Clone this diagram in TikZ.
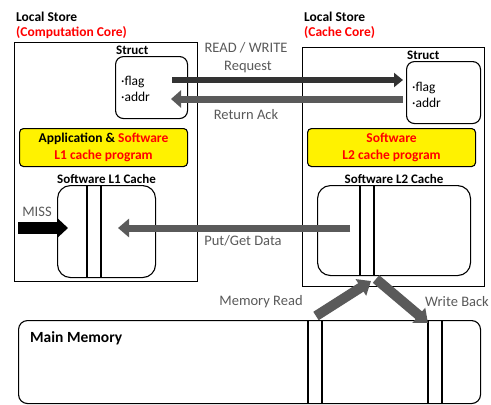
\documentclass[tikz,border=0pt]{standalone}
\usepackage{fontspec}
\setmainfont{Carlito}
\usetikzlibrary{arrows.meta,positioning}
\definecolor{darkarr}{HTML}{333333}
\definecolor{grayarr}{HTML}{5A5A5A}
\definecolor{graytxt}{HTML}{595959}
\tikzset{
  storebox/.style={draw, line width=1.1pt, anchor=north west, inner sep=0pt},
  structbox/.style={draw, line width=1.1pt, rounded corners=8pt, anchor=north west, inner sep=0pt},
  cachebox/.style={draw, line width=1.1pt, rounded corners=13pt, anchor=north west, inner sep=0pt},
  progbox/.style={draw, line width=1.1pt, fill=yellow, rounded corners=4pt, anchor=north west,
    inner sep=0pt, align=center, font=\fontsize{13.5}{17}\selectfont\bfseries},
  title/.style={anchor=west, font=\fontsize{13.5}{16}\selectfont\bfseries, inner sep=0pt},
  lbl/.style={font=\fontsize{13}{16}\selectfont\bfseries, inner sep=1pt},
  arrlbl/.style={text=graytxt, inner sep=0pt, font=\fontsize{14.5}{17}\selectfont},
}
\begin{document}
\begin{tikzpicture}[x=1pt,y=-1pt,line join=miter,font=\fontsize{13.5}{16}\selectfont]
\useasboundingbox (0,0) rectangle (491,405);
% local stores
\node[title] (ltitle) at (16,17) {Local Store};
\node[title,text=red] (lcore) at (16,33) {(Computation Core)};
\node[title] (rtitle) at (304,17) {Local Store};
\node[title,text=red] (rcore) at (304,33) {(Cache Core)};
\node[storebox, minimum width=183pt, minimum height=239pt] (lstore) at (14,42) {};
\node[storebox, minimum width=182pt, minimum height=239pt] (rstore) at (302,47) {};
% struct
\node[structbox, minimum width=72pt, minimum height=62pt] (lstruct) at (115,56) {};
\node[structbox, minimum width=74pt, minimum height=62pt] (rstruct) at (406,61) {};
\node[lbl, anchor=south west] (lstructlbl) at (lstruct.north west) {Struct};
\node[lbl, anchor=south west] (rstructlbl) at (rstruct.north west) {Struct};
\node[anchor=west, align=left, inner sep=0pt] (lfields) at ([xshift=6pt,yshift=-1pt]lstruct.west) {·flag\\·addr};
\node[anchor=west, align=left, inner sep=0pt] (rfields) at ([xshift=6pt,yshift=-2pt]rstruct.west) {·flag\\·addr};
% programs
\node[progbox, minimum width=168pt, minimum height=38pt] (lprog) at (19,128)
  {Application \& \textcolor{red}{Software}\\\textcolor{red}{L1 cache program}};
\node[progbox, minimum width=168pt, minimum height=38pt, text=red] (rprog) at (307,128)
  {Software\\L2 cache program};
% caches
\node[cachebox, minimum width=98pt, minimum height=92pt] (lcache) at (57,185) {};
\node[cachebox, minimum width=153pt, minimum height=90pt] (rcache) at (317,185) {};
\node[lbl, above=0pt of lcache] (lcachelbl) {Software L1 Cache};
\node[lbl, above=0pt of rcache] (rcachelbl) {Software L2 Cache};
\draw[line width=1.1pt] (87,0 |- lcache.north) -- (87,0 |- lcache.south);
\draw[line width=1.1pt] (101,0 |- lcache.north) -- (101,0 |- lcache.south);
\draw[line width=1.1pt] (360,0 |- rcache.north) -- (360,0 |- rcache.south);
\draw[line width=1.1pt] (374,0 |- rcache.north) -- (374,0 |- rcache.south);
% main memory
\node[cachebox, rounded corners=9pt, minimum width=462pt, minimum height=83pt] (mem) at (18,320) {};
\node[lbl, anchor=west, font=\fontsize{15.5}{18}\selectfont\bfseries] (memlbl) at (29,338) {Main Memory};
\foreach \xx in {308,322,428,442}
  \draw[line width=1.1pt] (\xx,0 |- mem.north) -- (\xx,0 |- mem.south);
% arrows
\coordinate (reqS) at (172,80);
\coordinate (ackE) at (171,99);
\coordinate (pgS) at (350,228);
\coordinate (pgE) at (118,228);
\coordinate (missS) at (18,228);
\coordinate (missE) at (68,228);
\coordinate (mrS) at (316,316);
\coordinate (mrE) at (371,281);
\coordinate (wbS) at (376,279);
\coordinate (wbE) at (428,323);
\draw[darkarr, line width=6pt, -{Triangle[length=9pt,width=14pt]}] (reqS) -- ([xshift=-3pt]reqS -| rstruct.west);
\draw[grayarr, line width=7pt, -{Triangle[length=10pt,width=17pt]}] ([xshift=-3pt]rstruct.west |- ackE) -- (ackE);
\draw[grayarr, line width=7pt, -{Triangle[length=11pt,width=18pt]}] (pgS) -- (pgE);
\draw[black, line width=12pt, -{Triangle[length=10pt,width=18pt]}] (missS) -- (missE);
\draw[grayarr, line width=10pt, -{Triangle[length=12pt,width=19pt]}] (mrS) -- (mrE);
\draw[grayarr, line width=10pt, -{Triangle[length=12pt,width=19pt]}] (wbS) -- (wbE);
% arrow labels
\node[arrlbl] (rwlbl) at (246,48) {READ / WRITE};
\node[arrlbl] (reqlbl) at (248,67) {Request};
\node[arrlbl] (acklbl) at (246,115) {Return Ack};
\node[arrlbl] (pglbl) at (243,241) {Put/Get Data};
\node[arrlbl] (misslbl) at (37,212) {MISS};
\node[arrlbl] (mrlbl) at (261,302) {Memory Read};
\node[arrlbl] (wblbl) at (457,302) {Write Back};
\end{tikzpicture}
\end{document}
